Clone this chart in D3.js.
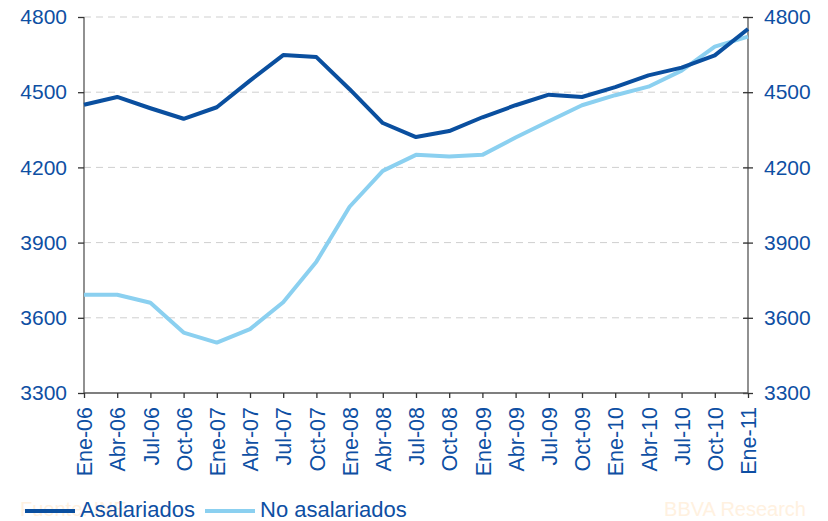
<!DOCTYPE html>
<html><head><meta charset="utf-8">
<script src="https://cdn.jsdelivr.net/npm/d3@7"></script>
<style>body{margin:0;background:#fff}svg{display:block}</style>
</head><body><svg id="c" width="828" height="521"></svg>
<script>
const categories = ["Ene-06","Abr-06","Jul-06","Oct-06","Ene-07","Abr-07","Jul-07","Oct-07","Ene-08","Abr-08","Jul-08","Oct-08","Ene-09","Abr-09","Jul-09","Oct-09","Ene-10","Abr-10","Jul-10","Oct-10","Ene-11"];
const asalariados = [4450,4481,4436,4394,4440,4546,4648,4640,4512,4377,4321,4345,4400,4448,4490,4481,4520,4567,4598,4647,4752];
const noAsalariados = [3692,3692,3660,3541,3501,3555,3662,3824,4043,4186,4250,4243,4250,4319,4384,4448,4488,4522,4586,4682,4722];
const yTicks = [3300,3600,3900,4200,4500,4800];
const seriesNames = ["Asalariados","No asalariados"];
const colors = ["#0a4f9f","#8bd0f0"];

const svg = d3.select("#c");
const L = 84, R = 748, T = 17, B = 393;
const x = d3.scalePoint().domain(categories).range([L, R]);
const y = d3.scaleLinear().domain([3300, 4800]).range([B, T]);
const textCol = "#0e4fa3";
const font = "Liberation Sans, Arial, sans-serif";

// grid
svg.append("g").selectAll("line").data(yTicks.filter(d => d > 3300)).join("line")
  .attr("x1", L).attr("x2", R).attr("y1", d => y(d)).attr("y2", d => y(d))
  .attr("stroke", "#cfcfcf").attr("stroke-width", 1).attr("stroke-dasharray", "7,5");

// left axis
const la = svg.append("g").attr("transform", `translate(${L},0)`)
  .call(d3.axisLeft(y).tickValues(yTicks).tickSize(6).tickPadding(11).tickFormat(d3.format("d")));
// right axis
const ra = svg.append("g").attr("transform", `translate(${R},0)`)
  .call(d3.axisRight(y).tickValues(yTicks).tickSize(5).tickPadding(11).tickFormat(d3.format("d")));
ra.selectAll(".tick line").attr("x1", -5);
// bottom axis
const ba = svg.append("g").attr("transform", `translate(0,${B})`)
  .call(d3.axisBottom(x).tickSize(5).tickPadding(0));
ba.selectAll(".tick text").attr("transform", "rotate(-90)")
  .attr("text-anchor", "end").attr("x", -14).attr("y", 0).attr("dy", "0.36em");

[la, ra, ba].forEach(g => {
  g.select(".domain").attr("stroke", "#555").attr("stroke-width", 1.3);
  g.selectAll(".tick line").attr("stroke", "#333").attr("stroke-width", 1.3);
  g.selectAll(".tick text").attr("fill", textCol).attr("font-family", font).attr("font-size", 21);
});
ba.selectAll(".tick text").attr("font-size", 21.5);
ba.select(".domain").attr("d", `M${L},0H${R}`);
la.select(".domain").attr("d", `M0,${T}V${B}`);
ra.select(".domain").attr("d", `M0,${T}V${B}`);

// lines
const line = d3.line().x((d, i) => x(categories[i])).y(d => y(d));
[noAsalariados, asalariados].forEach((s, k) => {
  svg.append("path").datum(s).attr("d", line).attr("fill", "none")
    .attr("stroke", k === 0 ? colors[1] : colors[0]).attr("stroke-width", 4)
    .attr("stroke-linejoin", "round");
});

// watermarks
svg.append("text").attr("x", 20).attr("y", 516).text("Fuente: INE")
  .attr("font-family", font).attr("font-size", 20).attr("fill", "#fff1e0");
svg.append("text").attr("x", 806).attr("y", 516).attr("text-anchor", "end").text("BBVA Research")
  .attr("font-family", font).attr("font-size", 20).attr("fill", "#fff1e0");

// legend
const leg = [{x: 25, name: seriesNames[0], c: colors[0]}, {x: 205, name: seriesNames[1], c: colors[1]}];
leg.forEach(l => {
  svg.append("line").attr("x1", l.x).attr("x2", l.x + 50).attr("y1", 511).attr("y2", 511)
    .attr("stroke", l.c).attr("stroke-width", 4);
  svg.append("text").attr("x", l.x + 55).attr("y", 517).text(l.name)
    .attr("font-family", font).attr("font-size", 22).attr("fill", textCol);
});
</script></body></html>
